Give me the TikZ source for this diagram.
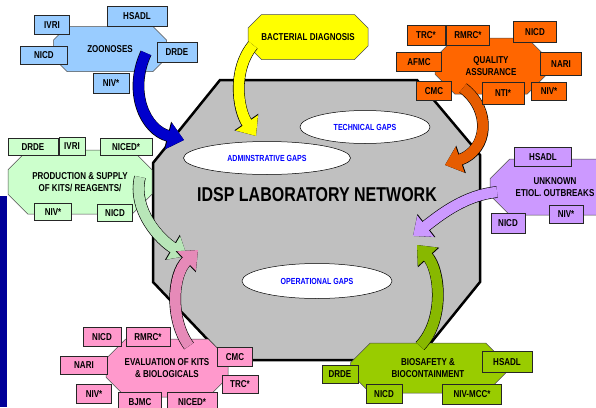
\documentclass[tikz,border=0pt]{standalone}
\usepackage{fontspec}
\newfontfamily\narrowsans{Liberation Sans}[FakeStretch=0.8]
\usetikzlibrary{shapes.geometric, shapes.misc, arrows.meta}
\definecolor{zoo}{HTML}{99CCFF}
\definecolor{bact}{HTML}{FFFF00}
\definecolor{qa}{HTML}{FF6600}
\definecolor{prod}{HTML}{CCFFCC}
\definecolor{unk}{HTML}{CC99FF}
\definecolor{evalc}{HTML}{FF99CC}
\definecolor{bio}{HTML}{99CC00}
\definecolor{netgray}{HTML}{C0C0C0}
\definecolor{navy}{HTML}{000099}
\definecolor{gaptext}{HTML}{0000FF}
\definecolor{arrblue}{HTML}{0000CC}
\definecolor{arrqa}{HTML}{E65C00}
\definecolor{arrprod}{HTML}{B8E6B8}
\definecolor{arreval}{HTML}{E68AB8}
\definecolor{arrbio}{HTML}{88B800}
\newcommand{\labfont}{\narrowsans\bfseries\fontsize{10}{12.5}\selectfont}
\newcommand{\gapfont}{\narrowsans\bfseries\fontsize{8.8}{10}\selectfont}
\newcommand{\titlefont}{\narrowsans\bfseries\fontsize{20}{22}\selectfont}

\begin{document}
\begin{tikzpicture}[x=1pt, y=-1pt,
    box/.style={draw=black!85, line width=0.6pt, fill=#1, minimum height=19pt, inner xsep=2pt, inner ysep=1pt, font=\labfont},
    hub/.style={chamfered rectangle, chamfered rectangle sep=10pt, draw=black!70, line width=0.5pt, fill=#1, inner sep=0pt, align=center, font=\labfont},
    gap/.style={ellipse, draw, line width=0.5pt, fill=white, inner sep=0pt, font=\gapfont, text=gaptext},
    flow/.style={#1, line width=10.5pt, -{Triangle[length=16pt, width=26pt]},
      preaction={draw=black, line width=11.7pt, -{Triangle[length=17pt, width=28pt]}}}]

    \useasboundingbox (0,0) rectangle (596,407);
    \fill[navy] (0,196) rectangle (7,407);

    % the network
    \draw[line width=2.5pt, fill=netgray] (220,80) -- (417,80) -- (480,155) -- (480,282) -- (417,360) -- (227,360) -- (153,282) -- (153,163) -- cycle;
    \node[font=\titlefont] (net) at (317,195) {IDSP LABORATORY NETWORK};
    \node[gap, minimum width=130pt, minimum height=33pt] (tech) at (365,127) {TECHNICAL GAPS};
    \node[gap, minimum width=167pt, minimum height=33pt] (admin) at (267,158) {ADMINSTRATIVE GAPS};
    \node[gap, minimum width=150pt, minimum height=35pt] (oper) at (317,281) {OPERATIONAL GAPS};
    \coordinate (netZoo) at (184,140);
    \coordinate (netBact) at (256,136);
    \coordinate (netQual) at (445,165);
    \coordinate (netProd) at (187,256);
    \coordinate (netUnk) at (413,236);
    \coordinate (netEval) at (198,250);
    \coordinate (netBio) at (417,245);

    % activity groups
    \node[hub=zoo, minimum width=113pt, minimum height=45pt] (zoon) at (110,49) {ZOONOSES};
    \node[hub=bact, minimum width=120pt, minimum height=45pt] (bact) at (308,37) {BACTERIAL DIAGNOSIS};
    \node[hub=qa, minimum width=112pt, minimum height=56pt] (qual) at (491,66) {QUALITY\\ASSURANCE};
    \node[hub=prod, minimum width=144pt, minimum height=64pt] (prod) at (80,182) {PRODUCTION \& SUPPLY\\OF KITS/ REAGENTS/};
    \node[hub=unk, minimum width=130pt, minimum height=56pt] (unk) at (555,187) {UNKNOWN\\ETIOL. OUTBREAKS};
    \node[hub=evalc, minimum width=122pt, minimum height=58pt] (eval) at (167,368) {EVALUATION OF KITS\\\& BIOLOGICALS};
    \node[hub=bio, minimum width=155pt, minimum height=50pt] (bio) at (428,368) {BIOSAFETY \&\\BIOCONTAINMENT};

    % curved arrows into the network
    \draw[flow=arrblue] ([shift={(36,4)}]zoon.center) .. controls (128,92) and (145,130) .. (netZoo);
    \draw[flow=bact] ([shift={(-55,8)}]bact.center) .. controls (232,70) and (238,110) .. (netBact);
    \draw[flow=arrqa] ([shift={(-28,22)}]qual.center) .. controls (492,110) and (488,150) .. (netQual);
    \draw[flow=arrprod] ([shift={(60,-5)}]prod.center) .. controls (132,210) and (160,240) .. (netProd);
    \draw[flow=unk] ([shift={(-58,5)}]unk.center) .. controls (465,195) and (440,215) .. (netUnk);
    \draw[flow=arreval] ([shift={(22,-22)}]eval.center) .. controls (170,320) and (172,275) .. (netEval);
    \draw[flow=arrbio] ([shift={(-8,-22)}]bio.center) .. controls (445,320) and (440,270) .. (netBio);

    % laboratories
    \node[box=zoo, minimum width=35pt] (zivri) at (52,25) {IVRI};
    \node[box=zoo, minimum width=60pt, minimum height=20pt] (zhsadl) at (137,16) {HSADL};
    \node[box=zoo, minimum width=47pt, minimum height=18pt] (znicd) at (44,55) {NICD};
    \node[box=zoo, minimum width=40pt, minimum height=20pt] (zdrde) at (177,52) {DRDE};
    \node[box=zoo, minimum width=36pt, minimum height=20pt] (zniv) at (111,83) {NIV*};

    \node[box=qa, minimum width=38pt, minimum height=20pt] (qtrc) at (426,35) {TRC*};
    \node[box=qa, minimum width=43pt, minimum height=20pt] (qrmrc) at (468,35) {RMRC*};
    \node[box=qa, minimum width=43pt, minimum height=21pt] (qnicd) at (535,32) {NICD};
    \node[box=qa, minimum width=45pt] (qafmc) at (419,62) {AFMC};
    \node[box=qa, minimum width=41pt, minimum height=23pt] (qnari) at (561,64) {NARI};
    \node[box=qa, minimum width=35pt] (qcmc) at (434,91) {CMC};
    \node[box=qa, minimum width=42pt, minimum height=22pt] (qnti) at (503,93) {NTI*};
    \node[box=qa, minimum width=35pt, minimum height=18pt] (qniv) at (549,91) {NIV*};

    \node[box=prod, minimum width=50pt, minimum height=17pt] (pdrde) at (33,147) {DRDE};
    \node[box=prod, minimum width=26pt, minimum height=18pt] (pivri) at (72,146) {IVRI};
    \node[box=prod, minimum width=52pt, minimum height=17pt] (pniced) at (126,147) {NICED*};
    \node[box=prod, minimum width=37pt, minimum height=17pt] (pniv) at (53,212) {NIV*};
    \node[box=prod, minimum width=35pt, minimum height=17pt] (pnicd) at (115,213) {NICD};

    \node[box=unk, minimum width=57pt] (uhsadl) at (543,157) {HSADL};
    \node[box=unk, minimum width=34pt, minimum height=18pt] (univ) at (566,214) {NIV*};
    \node[box=unk, minimum width=34pt, minimum height=20pt] (unicd) at (508,223) {NICD};

    \node[box=evalc, minimum width=38pt] (enicd) at (102,337) {NICD};
    \node[box=evalc, minimum width=44pt] (ermrc) at (148,337) {RMRC*};
    \node[box=evalc, minimum width=35pt] (ecmc) at (235,357) {CMC};
    \node[box=evalc, minimum width=47pt, minimum height=18pt] (enari) at (84,365) {NARI};
    \node[box=evalc, minimum width=36pt, minimum height=18pt] (etrc) at (240,384) {TRC*};
    \node[box=evalc, minimum width=35pt] (eniv) at (94,394) {NIV*};
    \node[box=evalc, minimum width=43pt] (ebjmc) at (140,402) {BJMC};
    \node[box=evalc, minimum width=50pt] (eniced) at (192,402) {NICED*};

    \node[box=bio, minimum width=36pt, minimum height=18pt] (bdrde) at (340,374) {DRDE};
    \node[box=bio, minimum width=50pt, minimum height=21pt] (bhsadl) at (507,362) {HSADL};
    \node[box=bio, minimum width=36pt] (bnicd) at (384,394) {NICD};
    \node[box=bio, minimum width=59pt, minimum height=20pt] (bnivmcc) at (472,394) {NIV-MCC*};
  \end{tikzpicture}
\end{document}
